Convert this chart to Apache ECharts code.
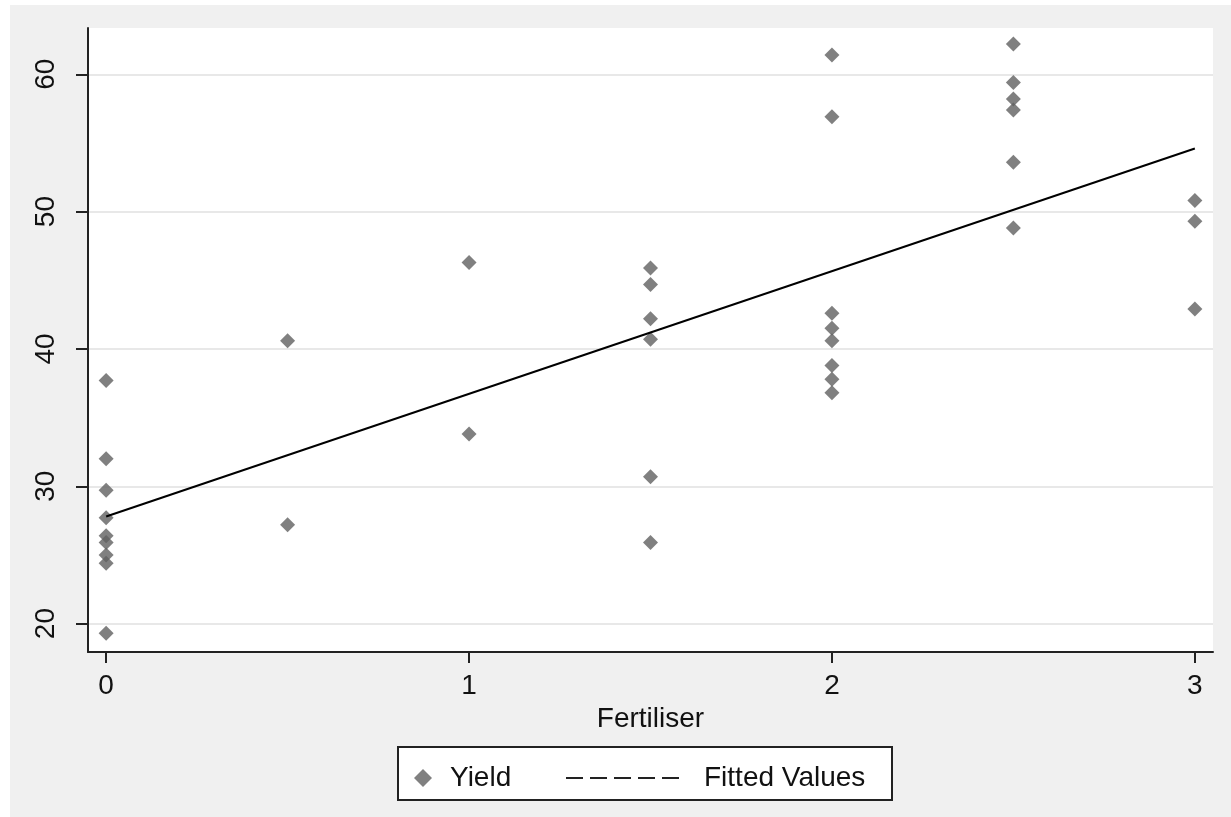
<!DOCTYPE html>
<html>
<head>
<meta charset="utf-8">
<script src="https://cdn.jsdelivr.net/npm/echarts@6/dist/echarts.min.js"></script>
<style>
html,body{margin:0;padding:0;background:#ffffff;}
#chart{width:1231px;height:817px;}
</style>
</head>
<body>
<div id="chart"></div>
<script>
// Fertiliser level for each observation group and the observed yields
var fertiliserLevels = [0, 0.5, 1, 1.5, 2, 2.5, 3];
var yieldAt0   = [37.7, 32.0, 29.7, 27.7, 26.4, 25.9, 25.0, 24.4, 19.3];
var yieldAt05  = [40.6, 27.2];
var yieldAt1   = [46.3, 33.8];
var yieldAt15  = [45.9, 44.7, 42.2, 40.7, 30.7, 25.9];
var yieldAt2   = [61.4, 56.9, 42.6, 41.5, 40.6, 38.8, 37.8, 36.8];
var yieldAt25  = [62.2, 59.4, 58.2, 57.4, 53.6, 48.8];
var yieldAt3   = [50.8, 49.3, 42.9];
// fitted regression line end points
var fittedX = [0, 3];
var fittedY = [27.8, 54.6];
// tick labels
var xTicks = [0, 1, 2, 3];
var yTicks = [20, 30, 40, 50, 60];

var groups = [yieldAt0, yieldAt05, yieldAt1, yieldAt15, yieldAt2, yieldAt25, yieldAt3];
var scatterData = [];
groups.forEach(function (g, i) {
  g.forEach(function (v) { scatterData.push([fertiliserLevels[i], v]); });
});
var lineData = fittedX.map(function (x, i) { return [x, fittedY[i]]; });

var FONT = 'Liberation Sans';
var chart = echarts.init(document.getElementById('chart'), null, {renderer: 'canvas'});
chart.setOption({
  animation: false,
  backgroundColor: '#ffffff',
  textStyle: {fontFamily: FONT},
  graphic: [
    {type: 'rect', z: -10, silent: true, shape: {x: 10, y: 5, width: 1221, height: 812}, style: {fill: '#f0f0f0'}},
    {type: 'rect', z: 1, silent: true, shape: {x: 398, y: 747, width: 494, height: 53}, style: {fill: '#ffffff', stroke: '#222222', lineWidth: 2}}
  ],
  grid: {left: 88, top: 28, width: 1125, height: 624, show: true, backgroundColor: '#ffffff', borderWidth: 0, containLabel: false},
  xAxis: {
    type: 'value', min: -0.05, max: 3.05,
    name: 'Fertiliser', nameLocation: 'middle', nameGap: 46,
    nameTextStyle: {fontSize: 28, color: '#111', fontFamily: FONT},
    axisLine: {show: true, onZero: false, lineStyle: {color: '#222', width: 2}},
    axisTick: {show: true, length: 11, customValues: xTicks, lineStyle: {color: '#222', width: 2}},
    axisLabel: {customValues: xTicks, fontSize: 28, color: '#111', margin: 20, fontFamily: FONT},
    splitLine: {show: false}
  },
  yAxis: {
    type: 'value', min: 17.93, max: 63.37,
    axisLine: {show: true, onZero: false, lineStyle: {color: '#222', width: 2}},
    axisTick: {show: true, length: 12, customValues: yTicks, lineStyle: {color: '#222', width: 2}},
    axisLabel: {customValues: yTicks, rotate: 90, fontSize: 28, color: '#111', margin: 28, fontFamily: FONT},
    splitLine: {show: true, lineStyle: {color: '#e8e8e8', width: 2}}
  },
  legend: [
    {
      z: 5, left: 409, top: 759, itemWidth: 18, itemHeight: 18,
      data: [{name: 'Yield', icon: 'diamond'}],
      textStyle: {fontSize: 28, color: '#111', fontFamily: FONT, padding: [0, 0, 0, 13]}
    },
    {
      z: 5, left: 560, top: 759, itemWidth: 115, itemHeight: 18,
      data: [{name: 'Fitted Values', itemStyle: {opacity: 0}, lineStyle: {type: [17, 7], width: 2, color: '#222'}}],
      textStyle: {fontSize: 28, color: '#111', fontFamily: FONT, padding: [0, 0, 0, 18]}
    }
  ],
  series: [
    {
      name: 'Yield', type: 'scatter', data: scatterData,
      symbol: 'diamond', symbolSize: 15,
      itemStyle: {color: '#606060'}, z: 3
    },
    {
      name: 'Fitted Values', type: 'line', data: lineData,
      symbol: 'none', showSymbol: false,
      itemStyle: {color: '#000'},
      lineStyle: {color: '#000', width: 2}, z: 4
    }
  ]
});
</script>
</body>
</html>
